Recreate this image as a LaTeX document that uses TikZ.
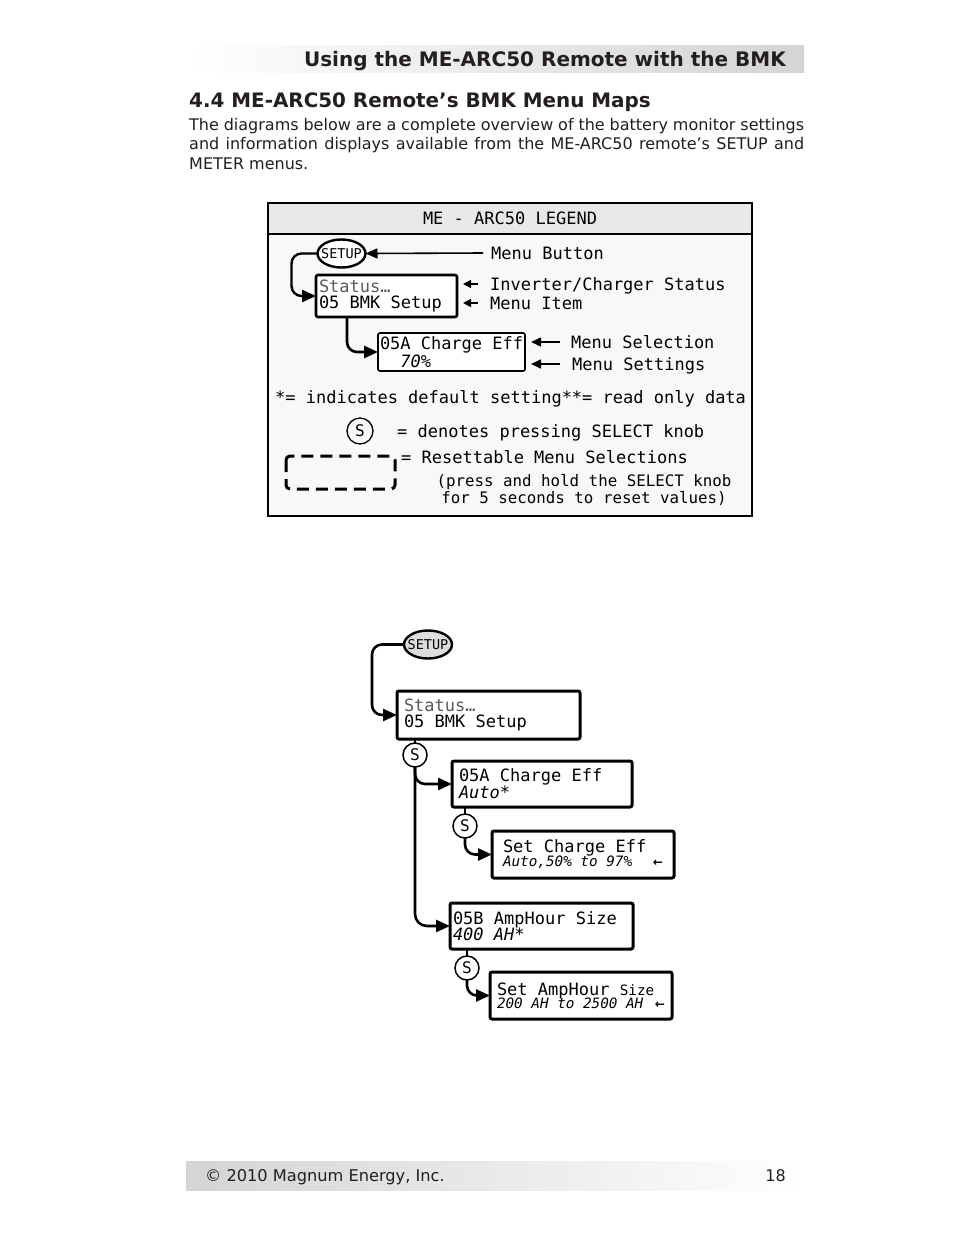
\documentclass[tikz,border=0pt]{standalone}
\usepackage{fontspec}
\setmainfont{DejaVu Sans}
\newfontfamily\lcdfont{DejaVu Sans Mono}
\newcommand\lcdsmall{\lcdfont\fontsize{14.3}{14}\selectfont}
\newcommand\lcdspace{\spaceskip=0pt\xspaceskip=0pt\relax}
\newcommand\backarrow{{\rmfamily\bfseries\fontsize{12}{12}\selectfont ←}}
\usetikzlibrary{shapes.geometric,arrows.meta}
\definecolor{ink}{HTML}{231F20}
\definecolor{statgray}{HTML}{5A5A5A}
\definecolor{legendbg}{HTML}{F7F8F8}
\definecolor{legendhd}{HTML}{E8E8E8}
\definecolor{buttongray}{HTML}{DDDDDD}
\definecolor{bargray}{HTML}{D4D4D4}
\begin{document}
\begin{tikzpicture}[x=1pt,y=-1pt,
    lcd/.style={font=\lcdfont\fontsize{17}{16}\selectfont},
    lbl/.style={lcd,anchor=base west,inner sep=0pt,text height=13pt,text depth=1pt},
    menubox/.style={draw,line width=3pt,rounded corners=2pt,fill=white,anchor=north west,
        align=left,inner ysep=0pt,outer sep=0pt,lcd},
    btn/.style={draw,ellipse,line width=2.4pt,inner sep=0pt,outer sep=0pt,minimum width=48pt,
        minimum height=28pt,font=\lcdfont\fontsize{13.5}{14}\selectfont},
    knob/.style={draw,circle,line width=1.5pt,fill=white,inner sep=0pt,outer sep=0pt,
        minimum size=24pt,font=\lcdfont\fontsize{16}{16}\selectfont},
    conn/.style={line width=2.6pt,rounded corners=10pt,-{Triangle[length=14pt,width=12pt]}},
    tick/.style={line width=1.4pt,-{Triangle[length=8pt,width=8pt]}},
    lead/.style={line width=1.6pt,-{Triangle[length=10pt,width=9pt]}},
    body/.style={anchor=base west,inner sep=0pt,text=ink,font=\fontsize{16}{19}\selectfont}]
    \useasboundingbox (0,0) rectangle (954,1235);
    \fill[white] (0,0) rectangle (954,1235);
    \shade[left color=white,right color=bargray] (190,45) rectangle (804,72);
    \node[anchor=base east,inner sep=0pt,text=ink,font=\bfseries\fontsize{20}{22}\selectfont] (runhead) at (786,66) {Using the ME-ARC50 Remote with the BMK};
    \node[anchor=base west,inner sep=0pt,text=ink,font=\bfseries\fontsize{19.9}{22}\selectfont] (sectitle) at (189,107) {4.4 ME-ARC50 Remote’s BMK Menu Maps};
    \node[body] (introA) at (189,130) {\makebox[615pt][s]{The diagrams below are a complete overview of the battery monitor settings}};
    \node[body] (introB) at (189,149) {\makebox[615pt][s]{and information displays available from the ME-ARC50 remote’s SETUP and}};
    \node[body] (introC) at (189,169) {METER menus.};

    \fill[legendbg] (268,203) rectangle (752,516);
    \fill[legendhd] (268,203) rectangle (752,234);
    \draw[line width=1.2pt] (268,203) rectangle (752,516) (268,234) -- (752,234);
    \node[lcd,inner sep=0pt] (lgTitle) at (510,218) {ME - ARC50 LEGEND};
    \node[btn,fill=white] (lgSetup) at (341.5,253.5) {\makebox[0pt]{SETUP}};
    \node[menubox,line width=2.6pt,minimum width=141pt,minimum height=42pt,text width=135pt,inner xsep=3pt] (lgStatus) at (316,275) {\lcdspace\textcolor{statgray}{Status…}\\05 BMK Setup};
    \node[menubox,line width=1.6pt,minimum width=146pt,minimum height=38pt,text width=143pt,inner xsep=2pt] (lgCharge) at (378,333) {\lcdspace 05A Charge Eff\\[1pt]\phantom{05}\textit{70\%}};
    \node[lbl] (lbButton) at (491,259) {Menu Button};
    \node[lbl] (lbInverter) at (490,290) {Inverter/Charger Status};
    \node[lbl] (lbItem) at (490,309) {Menu Item};
    \node[lbl] (lbSelection) at (571,348) {Menu Selection};
    \node[lbl] (lbSettings) at (572,370) {Menu Settings};
    \draw[conn,line width=2.4pt] (lgSetup.west) -- ++(-26,0) |- (lgStatus.west);
    \draw[conn] ([xshift=-39.5pt]lgStatus.south) |- (lgCharge.west);
    \draw[lead,-{Triangle[length=12pt,width=10pt]}] ([xshift=-8pt]lbButton.west) -- (lgSetup.east);
    \draw[tick,shorten >=6pt] ([xshift=-12pt]lbInverter.west) -- (lbInverter.west -| lgStatus.east);
    \draw[tick,shorten >=6pt] ([xshift=-12pt]lbItem.west) -- (lbItem.west -| lgStatus.east);
    \draw[lead,shorten >=6pt] ([xshift=-11pt]lbSelection.west) -- (lbSelection.west -| lgCharge.east);
    \draw[lead,shorten >=6pt] ([xshift=-12pt]lbSettings.west) -- (lbSettings.west -| lgCharge.east);
    \node[lbl] (lbDefault) at (275,403) {*= indicates default setting**= read only data};
    \node[knob,fill=none,line width=1.3pt,minimum size=26pt] (lgKnob) at (360,431) {S};
    \node[lbl] (lbKnob) at (397,437) {= denotes pressing SELECT knob};
    \draw[line width=3pt,dash pattern=on 12pt off 7pt,rounded corners=4pt] (286,456) rectangle (395,489);
    \node[lbl] (lbReset) at (401,463) {= Resettable Menu Selections};
    \node[align=center,inner sep=0pt,font=\lcdfont\fontsize{15.8}{17}\selectfont] (lbHold) at (584,490) {\lcdspace(press and hold the SELECT knob\\for 5 seconds to reset values)};

    \node[btn,fill=buttongray] (mSetup) at (428,644.5) {\makebox[0pt]{SETUP}};
    \node[menubox,minimum width=183pt,minimum height=48pt,text width=169pt,inner xsep=7pt] (mStatus) at (397,691) {\lcdspace\textcolor{statgray}{Status…}\\05 BMK Setup};
    \node[knob] (mKnobA) at (415,755) {S};
    \node[menubox,minimum width=180pt,minimum height=46pt,text width=166pt,inner xsep=7pt] (mCharge) at (452,761) {\lcdspace 05A Charge Eff\\\textit{Auto*}};
    \node[knob] (mKnobB) at (465,826) {S};
    \node[menubox,minimum width=182pt,minimum height=47pt,text width=160pt,inner xsep=11pt] (mSetCharge) at (492,831) {\lcdspace Set Charge Eff\\[-2pt]{\lcdsmall\lcdspace\textit{Auto,50\% to 97\%}\hfill\backarrow}};
    \node[menubox,minimum width=183pt,minimum height=46pt,text width=177pt,inner xsep=3pt] (mAmpHour) at (450,903) {\lcdspace 05B AmpHour Size\\[-1pt]\textit{400 AH*}};
    \node[knob] (mKnobC) at (467,968) {S};
    \node[menubox,minimum width=182pt,minimum height=47pt,text width=168pt,inner xsep=7pt] (mSetAmp) at (490,972) {\lcdspace Set AmpHour {\lcdsmall Size}\\[-3pt]{\lcdsmall\lcdspace\textit{200 AH to 2500 AH}\hfill\backarrow}};
    \draw[conn] (mSetup.west) -- ++(-32,0) |- (mStatus.west);
    \draw[line width=2.6pt] (mStatus.south -| mKnobA) -- (mKnobA.north);
    \draw[conn] (mKnobA.south) |- (mCharge.west);
    \draw[conn,rounded corners=12pt] (mKnobA.south) |- (mAmpHour.west);
    \draw[line width=2.6pt] (mCharge.south -| mKnobB) -- (mKnobB.north);
    \draw[conn] (mKnobB.south) |- (mSetCharge.west);
    \draw[line width=2.6pt] (mAmpHour.south -| mKnobC) -- (mKnobC.north);
    \draw[conn] (mKnobC.south) |- (mSetAmp.west);

    \shade[left color=bargray,right color=white] (186,1161) rectangle (804,1190);
    \node[anchor=base west,inner sep=0pt,text=ink,font=\fontsize{16.2}{18}\selectfont] (copyright) at (205,1181) {© 2010 Magnum Energy, Inc.};
    \node[anchor=base east,inner sep=0pt,text=ink,font=\fontsize{16}{18}\selectfont] (pageno) at (786,1181) {18};
\end{tikzpicture}
\end{document}
